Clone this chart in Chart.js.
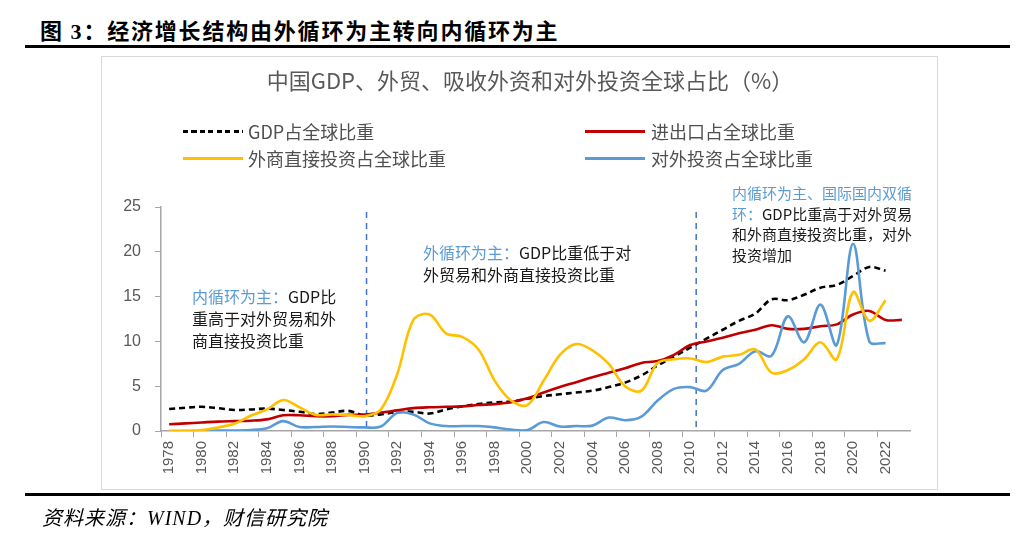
<!DOCTYPE html>
<html>
<head>
<meta charset="utf-8">
<script src="https://cdn.jsdelivr.net/npm/chart.js@4.4.0/dist/chart.umd.min.js"></script>
<style>
  body { margin: 0; background: #fff; }
  #page { position: relative; width: 1035px; height: 546px; overflow: hidden; font-family: "Noto Sans CJK SC", "Liberation Sans", sans-serif; }
  #c { position: absolute; left: 0; top: 0; }
  .abs { position: absolute; white-space: nowrap; }
  .rule { position: absolute; left: 25px; width: 985px; height: 3px; background: #000; }
  #head { left: 40px; top: 13px; font-size: 22px; font-weight: 700; letter-spacing: 1.8px; color: #000; }
  #head .num { font-family: "Liberation Serif", serif; font-weight: 700; }
  #box { position: absolute; left: 101px; top: 56px; width: 835px; height: 432px; border: 1px solid #d9d9d9; }
  #ctitle { left: 0; width: 1060px; text-align: center; top: 63px; font-size: 22px; color: #595959; }
  .leg { font-size: 18px; color: #505050; line-height: 20px; }
  .sample { position: absolute; height: 3px; width: 60px; }
  .note { font-size: 16px; line-height: 22px; color: #1a1a1a; }
  .note b { font-weight: 400; color: #5b9bd5; }
  #src { left: 42px; top: 502px; font-size: 20px; font-style: italic; color: #000; letter-spacing: 1px; }
  #src .en { font-family: "Liberation Serif", serif; }
</style>
</head>
<body>
<div id="page">
  <div id="head" class="abs">图 <span class="num">3</span>：经济增长结构由外循环为主转向内循环为主</div>
  <div class="rule" style="top:45px"></div>
  <div id="box"></div>
  <canvas id="c" width="1035" height="546"></canvas>
  <div id="ctitle" class="abs">中国GDP、外贸、吸收外资和对外投资全球占比（%）</div>

  <div class="sample" style="left:183px;top:130px;background:repeating-linear-gradient(to right,#000 0 5px,transparent 5px 8.5px)"></div>
  <div class="abs leg" style="left:248px;top:121px">GDP占全球比重</div>
  <div class="sample" style="left:183px;top:157px;background:#ffc000"></div>
  <div class="abs leg" style="left:248px;top:148px">外商直接投资占全球比重</div>
  <div class="sample" style="left:585px;top:130px;background:#c00000"></div>
  <div class="abs leg" style="left:651px;top:121px">进出口占全球比重</div>
  <div class="sample" style="left:585px;top:157px;background:#5b9bd5"></div>
  <div class="abs leg" style="left:651px;top:148px">对外投资占全球比重</div>

  <div class="abs note" style="left:192px;top:285px"><b>内循环为主：</b>GDP比<br>重高于对外贸易和外<br>商直接投资比重</div>
  <div class="abs note" style="left:423px;top:241px"><b>外循环为主：</b>GDP比重低于对<br>外贸易和外商直接投资比重</div>
  <div class="abs note" style="left:732px;top:183px;font-size:15px;line-height:20.5px"><b>内循环为主、国际国内双循</b><br><b>环：</b>GDP比重高于对外贸易<br>和外商直接投资比重，对外<br>投资增加</div>

  <div class="rule" style="top:493px"></div>
  <div id="src" class="abs">资料来源：<span class="en">WIND</span>，财信研究院</div>
</div>
<script>
const years = ["1978", "1979", "1980", "1981", "1982", "1983", "1984", "1985", "1986", "1987",
  "1988", "1989", "1990", "1991", "1992", "1993", "1994", "1995", "1996", "1997",
  "1998", "1999", "2000", "2001", "2002", "2003", "2004", "2005", "2006", "2007",
  "2008", "2009", "2010", "2011", "2012", "2013", "2014", "2015", "2016", "2017",
  "2018", "2019", "2020", "2021", "2022", "2023"];

// GDP占全球比重
const gdpShare = [2.45, 2.6, 2.7, 2.55, 2.35, 2.4, 2.5, 2.35, 2.15, 1.9,
  2.05, 2.25, 1.75, 1.85, 2.1, 2.15, 1.95, 2.4, 2.75, 3.0,
  3.2, 3.3, 3.6, 3.9, 4.1, 4.3, 4.5, 4.9, 5.4, 6.2,
  7.3, 8.3, 9.3, 10.3, 11.3, 12.3, 13.1, 14.7, 14.6, 15.2,
  16.0, 16.3, 17.3, 18.3, 17.9, null];

// 进出口占全球比重
const tradeShare = [0.75, 0.85, 0.95, 1.05, 1.1, 1.15, 1.3, 1.75, 1.75, 1.65,
  1.65, 1.8, 1.85, 2.05, 2.3, 2.55, 2.65, 2.7, 2.75, 2.9,
  3.0, 3.2, 3.65, 4.3, 4.9, 5.45, 6.0, 6.5, 7.0, 7.6,
  7.8, 8.5, 9.6, 10.0, 10.4, 10.9, 11.3, 11.8, 11.4, 11.4,
  11.7, 11.9, 13.0, 13.4, 12.4, 12.4];

// 外商直接投资占全球比重
const fdiShare = [0.0, 0.02, 0.1, 0.4, 0.8, 1.7, 2.4, 3.45, 2.65, 1.8,
  1.85, 1.8, 1.65, 2.4, 6.3, 12.4, 13.0, 10.9, 10.5, 9.1,
  5.6, 3.4, 2.9, 5.6, 8.5, 9.7, 9.0, 7.5, 5.0, 4.5,
  7.6, 8.0, 8.1, 7.7, 8.3, 8.5, 9.1, 6.5, 6.8, 8.0,
  9.9, 8.0, 15.5, 12.3, 14.6, null];

// 对外投资占全球比重
const odiShare = [0.0, 0.0, 0.0, 0.05, 0.05, 0.1, 0.3, 1.1, 0.45, 0.45,
  0.5, 0.45, 0.4, 0.5, 2.0, 1.85, 0.85, 0.55, 0.55, 0.55,
  0.4, 0.15, 0.1, 1.0, 0.5, 0.55, 0.6, 1.5, 1.2, 1.6,
  3.4, 4.7, 4.9, 4.5, 6.8, 7.5, 8.9, 8.4, 12.8, 9.9,
  14.1, 9.6, 20.9, 10.0, 9.8, null];

const yTicks = [0, 5, 10, 15, 20, 25];
const phaseYears = ["1990", "2010"];

const axisColor = "#a6a6a6";
const labelColor = "#595959";

// 阶段分隔虚线（略偏右，与原图一致）
const phaseLines = {
  id: "phaseLines",
  beforeDatasetsDraw(chart) {
    const { ctx, chartArea, scales } = chart;
    const shift = [2, 6];
    ctx.save();
    ctx.strokeStyle = "#4472c4";
    ctx.lineWidth = 1.5;
    ctx.setLineDash([6, 5]);
    phaseYears.forEach((y, k) => {
      const x = scales.x.getPixelForValue(years.indexOf(y)) + shift[k];
      ctx.beginPath();
      ctx.moveTo(x, chartArea.top + 5);
      ctx.lineTo(x, chartArea.bottom);
      ctx.stroke();
    });
    ctx.restore();
  }
};

function serie(label, data, color, dash) {
  return {
    label,
    data,
    borderColor: color,
    backgroundColor: color,
    borderWidth: 2.6,
    borderDash: dash || [],
    pointRadius: 0,
    tension: 0.35,
    fill: false,
    spanGaps: false
  };
}

new Chart(document.getElementById("c"), {
  type: "line",
  data: {
    labels: years,
    datasets: [
      serie("外商直接投资占全球比重", fdiShare, "#ffc000"),
      serie("对外投资占全球比重", odiShare, "#5b9bd5"),
      serie("进出口占全球比重", tradeShare, "#c00000"),
      serie("GDP占全球比重", gdpShare, "#000000", [6, 4])
    ]
  },
  options: {
    responsive: false,
    animation: false,
    layout: { padding: { left: 0, top: 207, right: 125, bottom: 0 } },
    plugins: {
      legend: { display: false },
      title: { display: false },
      tooltip: { enabled: false }
    },
    scales: {
      x: {
        type: "category",
        offset: true,
        afterFit: s => { s.height = 115; },
        grid: {
          offset: true,
          drawOnChartArea: false,
          drawTicks: true,
          tickLength: 6,
          color: ctx => (ctx.index % 2 === 0 ? axisColor : "rgba(0,0,0,0)")
        },
        border: { display: true, color: axisColor, width: 1.5 },
        ticks: {
          autoSkip: false,
          maxRotation: 90,
          minRotation: 90,
          padding: 4,
          color: labelColor,
          font: { family: "Liberation Sans", size: 15 },
          callback: (v, i) => (i % 2 === 0 ? years[i] : "")
        }
      },
      y: {
        min: 0,
        max: 25,
        afterFit: s => { s.width = 161; },
        afterBuildTicks: s => { s.ticks = yTicks.map(v => ({ value: v })); },
        grid: {
          drawOnChartArea: false,
          drawTicks: true,
          tickLength: 6,
          color: axisColor
        },
        border: { display: true, color: axisColor, width: 1.5 },
        ticks: {
          padding: 14,
          color: labelColor,
          font: { family: "Liberation Sans", size: 16 }
        }
      }
    }
  },
  plugins: [phaseLines]
});
</script>
</body>
</html>
